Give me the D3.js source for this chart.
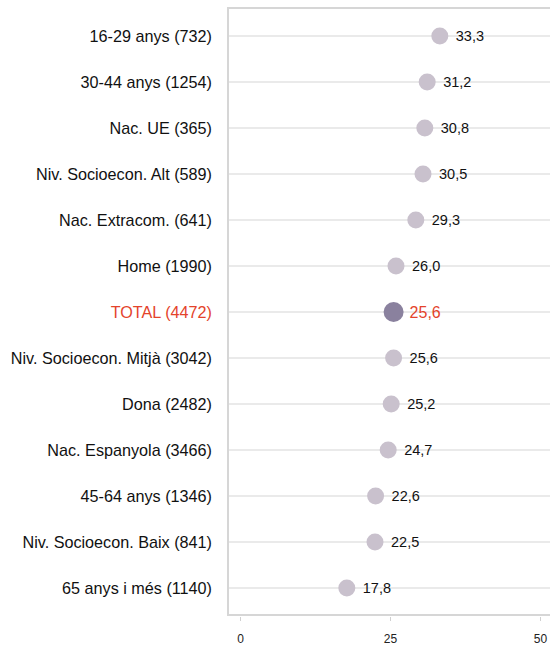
<!DOCTYPE html>
<html>
<head>
<meta charset="utf-8">
<script src="https://cdn.jsdelivr.net/npm/d3@7"></script>
<style>
  body { margin: 0; background: #fff; }
  text { font-family: "Liberation Sans", Arial, sans-serif; }
</style>
</head>
<body>
<div id="chart"></div>
<script>
var categories = [
  "16-29 anys (732)", "30-44 anys (1254)", "Nac. UE (365)", "Niv. Socioecon. Alt (589)",
  "Nac. Extracom. (641)", "Home (1990)", "TOTAL (4472)", "Niv. Socioecon. Mitjà (3042)",
  "Dona (2482)", "Nac. Espanyola (3466)", "45-64 anys (1346)", "Niv. Socioecon. Baix (841)",
  "65 anys i més (1140)"
];
var values = [33.3, 31.2, 30.8, 30.5, 29.3, 26.0, 25.6, 25.6, 25.2, 24.7, 22.6, 22.5, 17.8];
var xTicks = [0, 25, 50];
var highlight = "TOTAL (4472)";

var width = 550, height = 646;
var frame = { left: 228, top: 8, right: 552, bottom: 615 };

var svg = d3.select("#chart").append("svg")
  .attr("width", width)
  .attr("height", height);

var x = d3.scaleLinear().domain([0, 50]).range([240, 540]);
var y = d3.scalePoint().domain(categories).range([36, 588]);

// gridlines
svg.selectAll(".grid")
  .data(categories)
  .enter().append("line")
  .attr("x1", frame.left).attr("x2", frame.right)
  .attr("y1", function(d) { return y(d); })
  .attr("y2", function(d) { return y(d); })
  .style("stroke", "#e3e3e3")
  .style("stroke-width", 1.5);

// frame
svg.append("path")
  .attr("d", "M" + frame.right + "," + frame.top + "H" + frame.left + "V" + frame.bottom + "H" + frame.right)
  .style("fill", "none")
  .style("stroke", "#d6d6d6")
  .style("stroke-width", 2);

// x axis
var xAxis = d3.axisBottom(x).tickValues(xTicks).tickSize(4).tickPadding(14);
var gx = svg.append("g")
  .attr("transform", "translate(0," + (frame.bottom + 2) + ")")
  .call(xAxis);
gx.select(".domain").remove();
gx.selectAll(".tick line").style("stroke", "#d0d0d0");
gx.selectAll(".tick text")
  .attr("dy", "0.65em")
  .style("font-size", "12px")
  .style("fill", "#222");

// category labels
svg.selectAll(".cat")
  .data(categories)
  .enter().append("text")
  .attr("x", 212)
  .attr("y", function(d) { return y(d); })
  .attr("dy", "0.35em")
  .style("text-anchor", "end")
  .style("font-size", "16.2px")
  .style("fill", function(d) { return d === highlight ? "#e4432b" : "#111"; })
  .text(function(d) { return d; });

var rows = categories.map(function(c, i) { return { cat: c, v: values[i] }; });

// dots
svg.selectAll(".dot")
  .data(rows)
  .enter().append("circle")
  .attr("cx", function(d) { return x(d.v); })
  .attr("cy", function(d) { return y(d.cat); })
  .attr("r", function(d) { return d.cat === highlight ? 10 : 8.5; })
  .style("fill", function(d) { return d.cat === highlight ? "#8a819e" : "#c9c1cd"; });

// value labels
svg.selectAll(".val")
  .data(rows)
  .enter().append("text")
  .attr("x", function(d) { return x(d.v) + 16; })
  .attr("y", function(d) { return y(d.cat); })
  .attr("dy", "0.35em")
  .style("font-size", function(d) { return d.cat === highlight ? "16px" : "14.5px"; })
  .style("fill", function(d) { return d.cat === highlight ? "#e4432b" : "#111"; })
  .text(function(d) { return d3.format(".1f")(d.v).replace(".", ","); });
</script>
</body>
</html>
